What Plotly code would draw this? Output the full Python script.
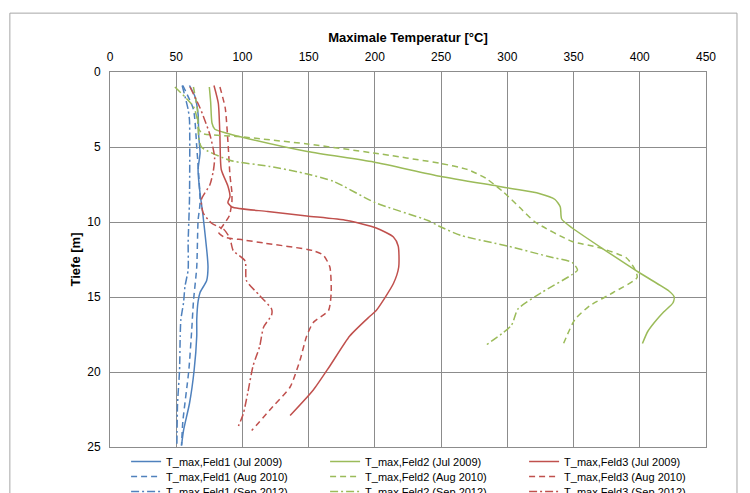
import plotly.graph_objects as go

# ---- data ----
f1_jul_d = [0.9, 1.6, 2.8, 4.3, 5.4, 6.5, 8.1, 9.4, 11.0, 12.3, 13.0, 13.9, 14.7, 15.3, 16.5, 17.6, 19.9, 22.1, 23.9, 24.9]
f1_jul_t = [60, 64, 66.5, 67, 68, 66.5, 68, 70, 72, 73.5, 74, 73, 68, 66.5, 65.5, 65.5, 63.5, 60, 55.5, 54]

f1_aug_d = [0.9, 2.5, 5.0, 8.7, 9.9, 13.0, 15.3, 17.2, 19.9, 23.3, 24.9]
f1_aug_t = [55, 63, 65.5, 68, 66.5, 65.5, 63, 61.7, 59.5, 55, 54]

f1_sep_d = [0.9, 2.5, 3.2, 8.5, 11.4, 13.2, 14.3, 15.4, 16.5, 17.6, 19.9, 22.1, 24.9]
f1_sep_t = [54.5, 59, 60, 60, 59, 59, 56.6, 55.5, 53.5, 53, 52.5, 51, 50.5]

f2_jul_d = [1.0, 2.0, 3.4, 3.8, 4.0, 4.35, 5.3, 6.0, 6.95, 7.6, 7.8, 8.1, 8.5, 9.0, 9.8, 10.4, 13.4, 14.6, 15.0, 15.4, 16.0, 16.7, 17.3, 18.1]
f2_jul_t = [75, 76, 77, 79, 85, 100, 149, 199, 249, 292, 305, 324, 336, 340, 341, 349, 400, 422, 426, 425, 418, 411, 406, 402]

f2_aug_d = [1.0, 2.5, 3.8, 4.1, 4.3, 4.8, 5.4, 6.1, 6.5, 7.1, 8.0, 9.0, 10.0, 11.3, 11.7, 12.4, 13.1, 13.7, 14.7, 15.6, 16.5, 18.2]
f2_aug_t = [63, 66, 67, 70, 97, 149, 199, 250, 270, 284, 297, 309, 321, 349, 369, 390, 396, 398, 380, 362, 351, 342]

f2_sep_d = [1.0, 2.3, 3.2, 4.3, 5.0, 5.9, 6.3, 6.8, 7.3, 8.7, 9.9, 10.3, 10.9, 11.6, 12.3, 12.7, 13.2, 13.5, 14.7, 15.8, 16.9, 18.2]
f2_sep_t = [49, 63, 66, 67, 69, 91, 121, 149, 169, 200, 240, 249, 265, 300, 331, 349, 353, 349, 326, 308, 303, 284]

f3_jul_d = [0.9, 2.1, 4.3, 6.5, 7.6, 8.3, 8.7, 9.0, 9.3, 9.6, 9.9, 10.4, 11.0, 11.6, 13.0, 14.1, 15.9, 16.3, 17.6, 19.6, 21.2, 22.9]
f3_jul_t = [78.5, 81.8, 83, 84, 89, 90.6, 89, 92, 119, 148.6, 179, 201, 214, 217.6, 218, 214, 201, 196, 181, 166, 153.5, 136]

f3_aug_d = [1.0, 2.4, 4.6, 6.9, 8.0, 8.7, 9.6, 10.4, 10.7, 11.0, 11.2, 11.4, 11.9, 12.2, 13.0, 14.7, 15.9, 16.7, 17.6, 19.2, 21.0, 22.3, 23.9]
f3_aug_t = [83, 87, 89, 90.6, 92, 92, 90, 84, 82, 86, 101, 116, 153, 161, 166, 167, 165, 153.5, 148.5, 143.5, 136, 123, 107]

f3_sep_d = [1.0, 2.4, 4.2, 5.7, 6.6, 7.5, 8.5, 9.4, 10.1, 10.5, 11.1, 11.9, 12.6, 13.9, 14.9, 15.8, 16.2, 17.0, 18.3, 19.6, 21.4, 22.8, 23.6]
f3_sep_t = [60.4, 68, 75.5, 79, 78, 75.5, 69, 70.4, 77, 86, 90.6, 93, 102, 103, 113, 122, 122, 116, 113, 108, 104, 100.6, 97]

x_ticks = [0, 50, 100, 150, 200, 250, 300, 350, 400, 450]
y_ticks = [0, 5, 10, 15, 20, 25]

BLUE, GREEN, RED = "#4F81BD", "#9BBB59", "#C0504D"
DASH = "6px,4px"
DASHDOT = "8px,3px,2px,3px"

# (name, temps, depths, colour, dash, legend row)
series = [
    ("T_max,Feld1 (Jul 2009)", f1_jul_t, f1_jul_d, BLUE, "solid", "legend"),
    ("T_max,Feld2 (Jul 2009)", f2_jul_t, f2_jul_d, GREEN, "solid", "legend"),
    ("T_max,Feld3 (Jul 2009)", f3_jul_t, f3_jul_d, RED, "solid", "legend"),
    ("T_max,Feld1 (Aug 2010)", f1_aug_t, f1_aug_d, BLUE, DASH, "legend2"),
    ("T_max,Feld2 (Aug 2010)", f2_aug_t, f2_aug_d, GREEN, DASH, "legend2"),
    ("T_max,Feld3 (Aug 2010)", f3_aug_t, f3_aug_d, RED, DASH, "legend2"),
    ("T_max,Feld1 (Sep 2012)", f1_sep_t, f1_sep_d, BLUE, DASHDOT, "legend3"),
    ("T_max,Feld2 (Sep 2012)", f2_sep_t, f2_sep_d, GREEN, DASHDOT, "legend3"),
    ("T_max,Feld3 (Sep 2012)", f3_sep_t, f3_sep_d, RED, DASHDOT, "legend3"),
]

fig = go.Figure()
for name, t, d, col, dash, leg in series:
    fig.add_trace(go.Scatter(x=t, y=d, mode="lines", name=name, legend=leg,
                             line=dict(color=col, width=1.5, dash=dash,
                                       shape="spline", smoothing=0.6)))

FONT = "Liberation Sans, Arial, sans-serif"
GRID = "#8c8c8c"

# page body has an 8px margin; the figure is sized to fill the rest of the window
W, H = 742, 485
ML, MT = 102, 64
PW, PH = 596, 375


def legend_row(ytop):
    return dict(orientation="h", x=0.027, xanchor="left", y=ytop, yanchor="top",
                entrywidth=154, entrywidthmode="pixels",
                font=dict(size=11, family=FONT, color="black"),
                bgcolor="rgba(0,0,0,0)", itemwidth=30)


fig.update_layout(
    width=W, height=H,
    margin=dict(l=ML, r=W - ML - PW, t=MT, b=H - MT - PH, autoexpand=False),
    paper_bgcolor="white", plot_bgcolor="white",
    font=dict(family=FONT, size=12, color="black"),
    xaxis=dict(side="top", range=[0, 450], tickvals=x_ticks,
               showgrid=True, gridcolor=GRID, gridwidth=1,
               showline=True, linecolor=GRID, mirror=True, zeroline=False,
               ticks="", tickfont=dict(size=12), automargin=False,
               ticklabelstandoff=5,
               title=dict(text="<b>Maximale Temperatur [°C]</b>",
                          font=dict(size=13), standoff=4)),
    yaxis=dict(range=[25, 0], tickvals=y_ticks,
               showgrid=True, gridcolor=GRID, gridwidth=1,
               showline=True, linecolor=GRID, mirror=True, zeroline=False,
               ticks="", tickfont=dict(size=12), ticklabelstandoff=6, automargin=False,
               title=dict(text="<b>Tiefe [m]</b>", font=dict(size=13), standoff=3)),
    legend=legend_row(0.0),
    legend2=legend_row(-15 / PH),
    legend3=legend_row(-30 / PH),
    shapes=[dict(type="rect", xref="paper", yref="paper",
                 x0=-0.168, x1=1.052, y0=-0.35, y1=1.157,
                 line=dict(color="#a6a6a6", width=1), layer="below")],
)

fig.write_html("out.html")
